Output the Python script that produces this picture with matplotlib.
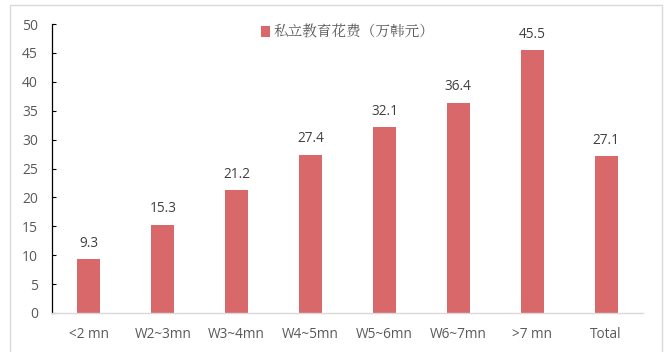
import matplotlib
matplotlib.use("Agg")
import matplotlib.pyplot as plt
from matplotlib.patches import Rectangle

categories = ["<2 mn", "W2~3mn", "W3~4mn", "W4~5mn", "W5~6mn", "W6~7mn", ">7 mn", "Total"]
values = [9.3, 15.3, 21.2, 27.4, 32.1, 36.4, 45.5, 27.1]
series_name = "私立教育花费（万韩元）"
y_ticks = [0, 5, 10, 15, 20, 25, 30, 35, 40, 45, 50]

bar_color = "#D9686A"
text_color = "#595959"

plt.rcParams["font.family"] = ["Open Sans", "Noto Sans CJK SC", "DejaVu Sans"]

fig = plt.figure(figsize=(6.65, 3.52), dpi=100)
ax = fig.add_axes([52 / 665, 1 - 313 / 352, (643 - 52) / 665, (313 - 24) / 352])

x = list(range(len(categories)))
bars = ax.bar(x, values, width=0.31, color=bar_color, zorder=2, label=series_name)

for xi, v in zip(x, values):
    ax.annotate(f"{v:.1f}", (xi, v), xytext=(0, 6), textcoords="offset points",
                ha="center", va="bottom", fontsize=9.8, color="#404040")

ax.set_xlim(-0.5, len(categories) - 0.5)
ax.set_ylim(0, 50)
ax.set_yticks(y_ticks)
ax.set_xticks(x)
ax.set_xticklabels(categories)
ax.tick_params(axis="y", direction="in", length=3, width=0.8, colors="black",
               labelcolor=text_color, labelsize=10, pad=10)
ax.tick_params(axis="x", length=0, labelcolor=text_color, labelsize=9.8, pad=10)

for side in ("top", "right"):
    ax.spines[side].set_visible(False)
ax.spines["left"].set_color("black")
ax.spines["left"].set_linewidth(0.9)
ax.spines["bottom"].set_color("#D9D9D9")
ax.spines["bottom"].set_linewidth(1.0)

leg = ax.legend(loc="upper center", bbox_to_anchor=(0.5, 1.045), frameon=False,
                handlelength=0.6, handleheight=0.7, handletextpad=0.25,
                prop={"family": ["Noto Serif CJK SC", "Noto Sans CJK SC"], "size": 10.5})
for t in leg.get_texts():
    t.set_color(text_color)

# outer chart frame
fig.patches.append(Rectangle((10 / 665, -0.01), (662 - 10) / 665, 1 - 5 / 352 + 0.01,
                             transform=fig.transFigure, fill=False,
                             edgecolor="#D9D9D9", linewidth=1.0))

fig.savefig("out.png", dpi=100)
